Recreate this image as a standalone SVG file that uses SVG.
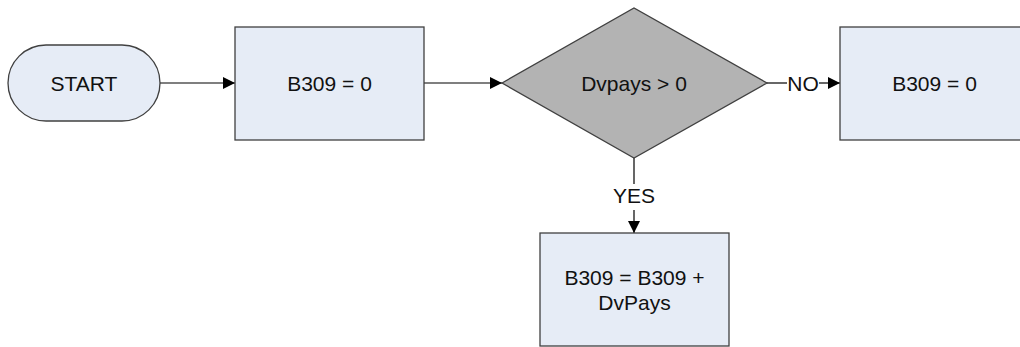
<svg xmlns="http://www.w3.org/2000/svg" width="1020" height="347" viewBox="0 0 1020 347">
<defs>
<style>
.box{fill:#E6ECF6;stroke:#404040;stroke-width:1.3}
.dec{fill:#B3B3B3;stroke:#404040;stroke-width:1.3}
.t{font-family:"Liberation Sans",Arial,sans-serif;font-size:21px;fill:#111;text-anchor:middle}
.c{stroke:#000;stroke-width:1.2;fill:none}
.ah{fill:#000}
</style>
<marker id="arr" viewBox="0 0 12 12" refX="12" refY="6" markerWidth="12" markerHeight="12" markerUnits="userSpaceOnUse" orient="auto">
<path d="M0,0 L12,6 L0,12 Z" class="ah"/>
</marker>
</defs>
<rect width="1020" height="347" fill="#fff"/>
<g id="connectors">
<line class="c" x1="160" y1="83" x2="235" y2="83" marker-end="url(#arr)"/>
<line class="c" x1="424" y1="83" x2="502" y2="83" marker-end="url(#arr)"/>
<line class="c" x1="767" y1="83" x2="787" y2="83"/>
<line class="c" x1="819" y1="83" x2="840" y2="83" marker-end="url(#arr)"/>
<text class="t" x="803" y="90.5">NO</text>
<line class="c" x1="634" y1="158" x2="634" y2="184"/>
<line class="c" x1="634" y1="210" x2="634" y2="233" marker-end="url(#arr)"/>
<text class="t" x="634" y="203">YES</text>
</g>
<g id="start">
<rect class="box" x="8" y="45" width="152" height="76" rx="38" ry="38"/>
<text class="t" x="84" y="90.5">START</text>
</g>
<g id="init">
<rect class="box" x="235" y="27" width="189" height="113"/>
<text class="t" x="329.5" y="90.5">B309 = 0</text>
</g>
<g id="decision">
<polygon class="dec" points="502,83 634,8 767,83 634,158"/>
<text class="t" x="634" y="90.5">Dvpays &gt; 0</text>
</g>
<g id="no-box">
<rect class="box" x="840" y="27" width="189" height="113"/>
<text class="t" x="934.5" y="90.5">B309 = 0</text>
</g>
<g id="yes-box">
<rect class="box" x="540" y="233" width="189" height="113"/>
<text class="t" x="634.5" y="285">B309 = B309 +</text>
<text class="t" x="634.5" y="310">DvPays</text>
</g>
</svg>
